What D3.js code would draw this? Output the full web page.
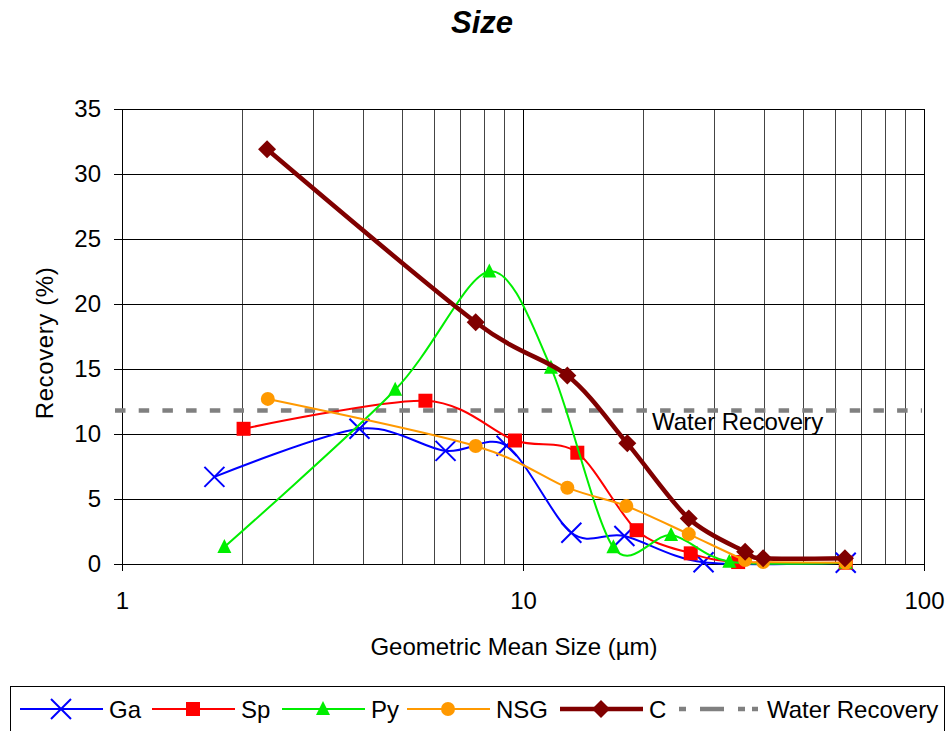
<!DOCTYPE html>
<html><head><meta charset="utf-8">
<script src="https://cdn.jsdelivr.net/npm/d3@7"></script>
<style>body{margin:0;background:#fff}svg{display:block;font-family:"Liberation Sans",Arial,sans-serif}</style>
</head><body><svg id="c" width="952" height="731"></svg>
<script>
const gaX=[1.70,3.91,6.41,9.1,13.2,17.9,28.2,63.8];
const gaY=[6.7,10.4,8.7,9.1,2.4,2.15,0.13,0.1];
const spX=[2.01,5.71,9.55,13.66,19.2,26.2,34.4,63.8];
const spY=[10.4,12.56,9.5,8.56,2.6,0.82,0.15,0.1];
const pyX=[1.80,4.80,8.24,11.74,16.8,23.4,32.7,63.8];
const pyY=[1.3,13.4,22.5,15.1,1.28,2.23,0.18,0.1];
const nsgX=[2.31,7.62,12.9,18.1,25.9,35.8,39.7,63.8];
const nsgY=[12.7,9.08,5.87,4.46,2.3,0.3,0.15,0.1];
const cX=[2.30,7.62,12.9,18.2,25.9,35.8,39.7,63.5];
const cY=[31.9,18.6,14.5,9.28,3.5,0.95,0.44,0.44];
const waterRecovery=11.8;
const yTicks=[0,5,10,15,20,25,30,35];
const xTicks=[1,10,100];
const seriesNames=["Ga","Sp","Py","NSG","C"];

const svg=d3.select("#c");
const L=122,R=924,T=109,B=564;
const x=d3.scaleLog().domain([1,100]).range([L,R]);
const y=d3.scaleLinear().domain([0,35]).range([B,T]);

// title
svg.append("text").attr("x",482).attr("y",33).attr("text-anchor","middle")
  .style("font-size","31px").style("font-weight","bold").style("font-style","italic").text("Size");

// gridlines
const minor=[];
for(const d of [1,10]) for(let k=2;k<=9;k++) minor.push(d*k);
svg.append("g").selectAll("line").data(minor).join("line")
  .attr("x1",d=>x(d)).attr("x2",d=>x(d)).attr("y1",T).attr("y2",B)
  .attr("stroke","#444").attr("stroke-width",1).attr("shape-rendering","crispEdges");
svg.append("g").selectAll("line").data(xTicks).join("line")
  .attr("x1",d=>x(d)).attr("x2",d=>x(d)).attr("y1",T).attr("y2",B)
  .attr("stroke","#000").attr("stroke-width",1).attr("shape-rendering","crispEdges");
svg.append("g").selectAll("line").data(yTicks).join("line")
  .attr("x1",L).attr("x2",R).attr("y1",d=>y(d)).attr("y2",d=>y(d))
  .attr("stroke","#000").attr("stroke-width",1).attr("shape-rendering","crispEdges");
svg.append("rect").attr("x",L).attr("y",T).attr("width",R-L).attr("height",B-T)
  .attr("fill","none").attr("stroke","#000").attr("shape-rendering","crispEdges");

// axes
const yAxis=d3.axisLeft(y).tickValues(yTicks).tickSize(8).tickPadding(13);
const gy=svg.append("g").attr("transform",`translate(${L},0)`).call(yAxis);
gy.select(".domain").attr("stroke","#000");
gy.selectAll("text").style("font-size","24px").attr("fill","#000").attr("dy","0.3em");
const xAxis=d3.axisBottom(x).tickValues(xTicks).tickFormat(d3.format("d")).tickSize(7).tickPadding(21);
const gx=svg.append("g").attr("transform",`translate(0,${B})`).call(xAxis);
gx.select(".domain").attr("stroke","#000");
gx.selectAll("text").style("font-size","24px").attr("fill","#000");

svg.append("text").attr("transform","translate(53,343) rotate(-90)").attr("text-anchor","middle")
  .style("font-size","24px").style("letter-spacing","0.6px").text("Recovery (%)");
svg.append("text").attr("x",514).attr("y",655).attr("text-anchor","middle")
  .style("font-size","24px").text("Geometric Mean Size (µm)");

// water recovery
svg.append("line").attr("x1",L-7).attr("x2",R-2).attr("y1",y(waterRecovery)).attr("y2",y(waterRecovery))
  .attr("stroke","#808080").attr("stroke-width",4.5).attr("stroke-dasharray","10.5,13.2");
svg.append("text").attr("x",652).attr("y",430).style("font-size","24px").text("Water Recovery");

const series=[
  {name:"Ga",xs:gaX,ys:gaY,color:"#0000FF",w:2,m:"x"},
  {name:"Sp",xs:spX,ys:spY,color:"#FF0000",w:2,m:"square"},
  {name:"Py",xs:pyX,ys:pyY,color:"#00EE00",w:2,m:"triangle"},
  {name:"NSG",xs:nsgX,ys:nsgY,color:"#FF9900",w:2,m:"circle"},
  {name:"C",xs:cX,ys:cY,color:"#800000",w:4.5,m:"diamond"}
];
const line=d3.line().x(d=>x(d[0])).y(d=>y(d[1])).curve(d3.curveCardinal.tension(0.1));
function marker(g,type,cx,cy,color){
  if(type==="x"){
    const s=10;
    g.append("path").attr("d",`M${cx-s},${cy-s}L${cx+s},${cy+s}M${cx-s},${cy+s}L${cx+s},${cy-s}`)
      .attr("stroke",color).attr("stroke-width",2).attr("fill","none");
  } else if(type==="square"){
    g.append("rect").attr("x",cx-7).attr("y",cy-7).attr("width",14).attr("height",14).attr("fill",color);
  } else if(type==="triangle"){
    g.append("path").attr("d",`M${cx},${cy-8}L${cx+7},${cy+6}L${cx-7},${cy+6}Z`).attr("fill",color);
  } else if(type==="circle"){
    g.append("circle").attr("cx",cx).attr("cy",cy).attr("r",7).attr("fill",color);
  } else if(type==="diamond"){
    g.append("path").attr("d",`M${cx},${cy-9}L${cx+9},${cy}L${cx},${cy+9}L${cx-9},${cy}Z`).attr("fill",color);
  }
}
for(const s of series){
  const pts=s.xs.map((v,i)=>[v,s.ys[i]]);
  const g=svg.append("g");
  g.append("path").attr("d",line(pts)).attr("fill","none").attr("stroke",s.color).attr("stroke-width",s.w);
  pts.forEach(p=>marker(g,s.m,x(p[0]),y(p[1]),s.color));
}

// legend
svg.append("rect").attr("x",10.5).attr("y",686.5).attr("width",934).attr("height",60)
  .attr("fill","#fff").attr("stroke","#000");
const legX=[20,152,282,407,560];
const ly=709;
series.forEach((s,i)=>{
  const g=svg.append("g");
  g.append("line").attr("x1",legX[i]).attr("x2",legX[i]+83).attr("y1",ly).attr("y2",ly)
    .attr("stroke",s.color).attr("stroke-width",s.w);
  marker(g,s.m,legX[i]+41,ly,s.color);
  g.append("text").attr("x",legX[i]+89).attr("y",ly+9).style("font-size","24px").text(s.name);
});
svg.append("line").attr("x1",679).attr("x2",758).attr("y1",ly).attr("y2",ly)
  .attr("stroke","#808080").attr("stroke-width",4.5).attr("stroke-dasharray","7,14,24,14,7");
svg.append("text").attr("x",767).attr("y",ly+9).style("font-size","24px").text("Water Recovery");
</script></body></html>
